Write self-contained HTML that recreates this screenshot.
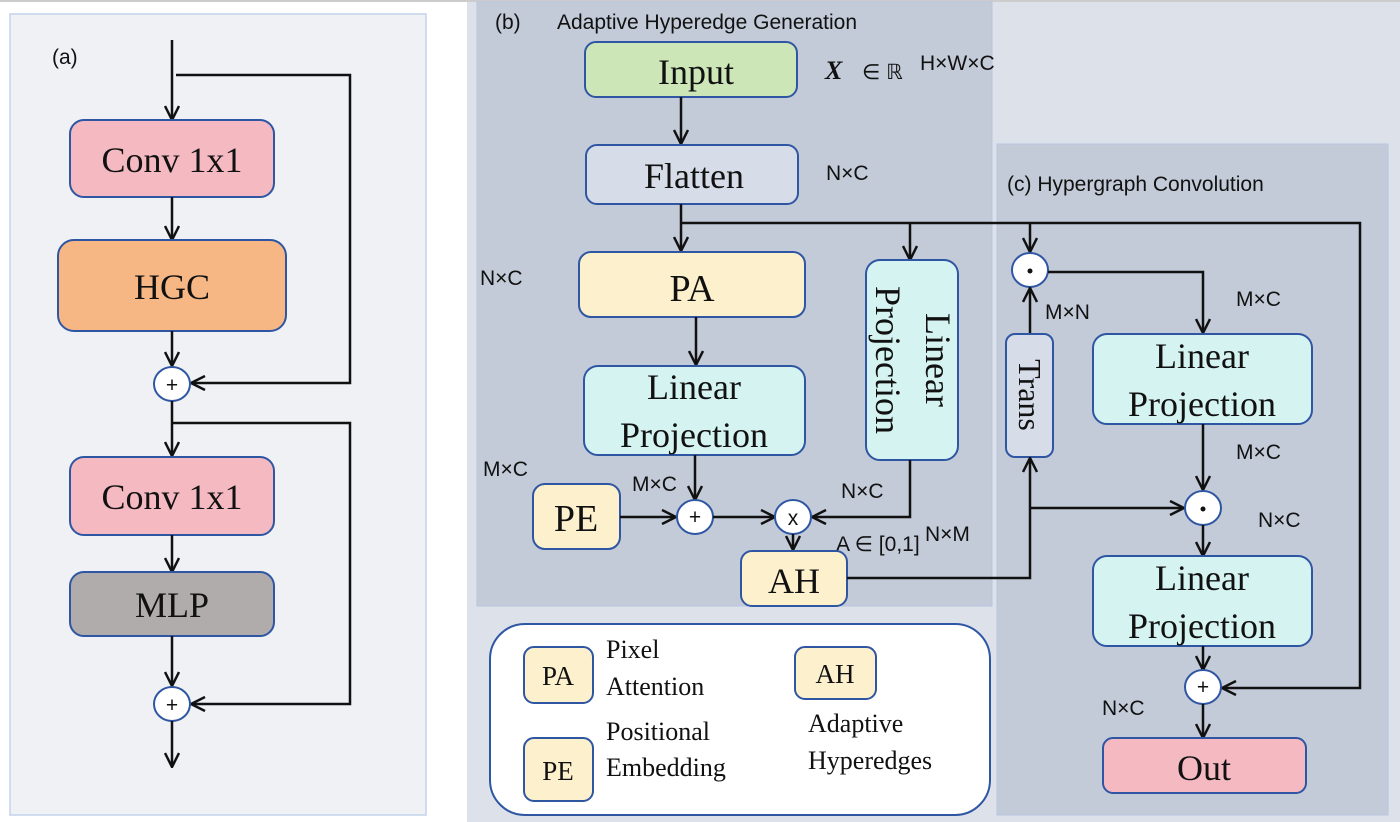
<!DOCTYPE html>
<html><head><meta charset="utf-8"><style>
html,body{margin:0;padding:0;background:#fff;}
svg{display:block}
.s{font-family:"Liberation Serif",serif;fill:#111;}
.l{font-family:"Liberation Sans",sans-serif;fill:#111;font-size:21px;}
.b{stroke:#2f56a3;stroke-width:2;}
.w{stroke:#111;stroke-width:2.5;fill:none;}
</style></head><body>
<svg width="1400" height="822" viewBox="0 0 1400 822" xmlns="http://www.w3.org/2000/svg">
<defs>
<marker id="a" viewBox="0 0 16 16" refX="15" refY="8" markerWidth="16" markerHeight="16" markerUnits="userSpaceOnUse" orient="auto">
<path d="M1,1 L15,8 L1,15" fill="none" stroke="#111" stroke-width="2.5"/>
</marker>
</defs>
<rect width="1400" height="822" fill="#fff"/>
<line x1="0" y1="1" x2="1400" y2="1" stroke="#ccc" stroke-width="2"/>
<rect x="467" y="2" width="933" height="820" fill="#dde2ea"/>
<!-- panel a -->
<rect x="10" y="14" width="416" height="801" fill="#eff1f5" stroke="#c3d2ec" stroke-width="1.5"/>
<text x="52" y="64" class="l" font-size="23">(a)</text>
<line x1="172" y1="40" x2="172" y2="120" class="w" marker-end="url(#a)"/>
<polyline points="176,75 350,75 350,383 191,383" class="w" marker-end="url(#a)"/>
<rect x="70" y="120" width="204" height="77" rx="14" fill="#f5b9c2" class="b"/>
<text x="172" y="172" class="s" font-size="36" text-anchor="middle">Conv 1x1</text>
<line x1="172" y1="197" x2="172" y2="240" class="w" marker-end="url(#a)"/>
<rect x="58" y="240" width="228" height="91" rx="16" fill="#f7b785" class="b"/>
<text x="172" y="299" class="s" font-size="36" text-anchor="middle">HGC</text>
<line x1="172" y1="331" x2="172" y2="366" class="w" marker-end="url(#a)"/>
<ellipse cx="172" cy="384" rx="18" ry="17" fill="#fff" class="b"/>
<text x="172" y="392" class="l" font-size="20" text-anchor="middle">+</text>
<line x1="172" y1="401" x2="172" y2="456" class="w" marker-end="url(#a)"/>
<polyline points="172,423 350,423 350,704 191,704" class="w" marker-end="url(#a)"/>
<rect x="70" y="457" width="204" height="78" rx="14" fill="#f5b9c2" class="b"/>
<text x="172" y="509" class="s" font-size="36" text-anchor="middle">Conv 1x1</text>
<line x1="172" y1="535" x2="172" y2="572" class="w" marker-end="url(#a)"/>
<rect x="70" y="572" width="204" height="64" rx="14" fill="#b0acab" class="b"/>
<text x="172" y="617" class="s" font-size="36" text-anchor="middle">MLP</text>
<line x1="172" y1="636" x2="172" y2="686" class="w" marker-end="url(#a)"/>
<ellipse cx="172" cy="704" rx="18" ry="17" fill="#fff" class="b"/>
<text x="172" y="712" class="l" font-size="20" text-anchor="middle">+</text>
<line x1="172" y1="721" x2="172" y2="767" class="w" marker-end="url(#a)"/>
<!-- panel b -->
<rect x="477" y="2" width="515" height="604" fill="#c3cbd8" stroke="#b8c6e2" stroke-width="1"/>
<!-- panel c bg -->
<rect x="997" y="144" width="391" height="671" fill="#c3cbd8" stroke="#b8c6e2" stroke-width="1"/>
<text x="495" y="29" class="l" font-size="24">(b)</text>
<text x="557" y="29" class="l" font-size="24">Adaptive Hyperedge Generation</text>
<rect x="585" y="42" width="212" height="55" rx="11" fill="#cde6b8" class="b"/>
<text x="696" y="84" class="s" font-size="36" text-anchor="middle">Input</text>
<text x="825" y="79" class="s" font-size="26" font-weight="bold" font-style="italic">X</text>
<text x="862" y="79" class="l" font-size="26">∈ ℝ</text>
<text x="920" y="70" class="l" font-size="15">H×W×C</text>
<line x1="681" y1="97" x2="681" y2="144" class="w" marker-end="url(#a)"/>
<rect x="586" y="145" width="212" height="59" rx="11" fill="#d7dde8" class="b"/>
<text x="694" y="188" class="s" font-size="36" text-anchor="middle">Flatten</text>
<text x="826" y="180" class="l">N×C</text>
<text x="480" y="285" class="l">N×C</text>
<line x1="681" y1="204" x2="681" y2="251" class="w" marker-end="url(#a)"/>
<polyline points="681,223 1360,223 1360,688 1222,688" class="w" marker-end="url(#a)"/>
<line x1="910" y1="223" x2="910" y2="260" class="w" marker-end="url(#a)"/>
<rect x="579" y="252" width="226" height="65" rx="12" fill="#fdf0cd" class="b"/>
<text x="692" y="301" class="s" font-size="38" text-anchor="middle">PA</text>
<line x1="696" y1="317" x2="696" y2="365" class="w" marker-end="url(#a)"/>
<rect x="584" y="366" width="221" height="89" rx="14" fill="#d5f4f1" class="b"/>
<text x="694" y="399" class="s" font-size="36" text-anchor="middle">Linear</text>
<text x="694" y="447" class="s" font-size="36" text-anchor="middle">Projection</text>
<rect x="866" y="260" width="92" height="200" rx="14" fill="#d5f4f1" class="b"/>
<text transform="translate(926,360) rotate(90)" class="s" font-size="36" text-anchor="middle">Linear</text>
<text transform="translate(876,360) rotate(90)" class="s" font-size="36" text-anchor="middle">Projection</text>
<text x="483" y="476" class="l">M×C</text>
<text x="632" y="491" class="l">M×C</text>
<line x1="695" y1="455" x2="695" y2="500" class="w" marker-end="url(#a)"/>
<rect x="533" y="484" width="87" height="65" rx="12" fill="#fdf0cd" class="b"/>
<text x="576" y="531" class="s" font-size="38" text-anchor="middle">PE</text>
<line x1="620" y1="517" x2="676" y2="517" class="w" marker-end="url(#a)"/>
<ellipse cx="695" cy="517" rx="18" ry="17" fill="#fff" class="b"/>
<text x="695" y="524" class="l" font-size="19" text-anchor="middle">+</text>
<line x1="713" y1="517" x2="775" y2="517" class="w" marker-end="url(#a)"/>
<polyline points="910,460 910,517 812,517" class="w" marker-end="url(#a)"/>
<text x="841" y="498" class="l">N×C</text>
<ellipse cx="793" cy="517" rx="18" ry="17" fill="#fff" class="b"/>
<text x="793" y="525" class="l" font-size="20" text-anchor="middle">x</text>
<line x1="793" y1="534" x2="793" y2="550" class="w" marker-end="url(#a)"/>
<text x="836" y="551" class="l" font-size="22">A ∈ [0,1]</text>
<text x="925" y="541" class="l" font-size="15">N×M</text>
<rect x="741" y="551" width="106" height="55" rx="11" fill="#fdf0cd" class="b"/>
<text x="794" y="593" class="s" font-size="36" text-anchor="middle">AH</text>
<!-- legend -->
<rect x="490" y="624" width="500" height="191" rx="35" fill="#fff" class="b"/>
<rect x="524" y="647" width="69" height="56" rx="10" fill="#fdf0cd" class="b"/>
<text x="558" y="685" class="s" font-size="27" text-anchor="middle">PA</text>
<text x="606" y="658" class="s" font-size="26">Pixel</text>
<text x="606" y="695" class="s" font-size="26">Attention</text>
<rect x="795" y="647" width="81" height="52" rx="10" fill="#fdf0cd" class="b"/>
<text x="835" y="683" class="s" font-size="27" text-anchor="middle">AH</text>
<rect x="524" y="738" width="69" height="63" rx="10" fill="#fdf0cd" class="b"/>
<text x="558" y="780" class="s" font-size="27" text-anchor="middle">PE</text>
<text x="606" y="740" class="s" font-size="26">Positional</text>
<text x="606" y="776" class="s" font-size="26">Embedding</text>
<text x="808" y="732" class="s" font-size="26">Adaptive</text>
<text x="808" y="769" class="s" font-size="26">Hyperedges</text>
<!-- panel c -->
<text x="1007" y="191" class="l" font-size="23">(c)  Hypergraph Convolution</text>
<line x1="1030" y1="223" x2="1030" y2="252" class="w" marker-end="url(#a)"/>
<ellipse cx="1030" cy="270" rx="18" ry="17" fill="#fff" class="b"/>
<circle cx="1030" cy="271" r="2.5" fill="#111"/>
<polyline points="1048,272 1203,272 1203,333" class="w" marker-end="url(#a)"/>
<text x="1236" y="306" class="l">M×C</text>
<text x="1045" y="319" class="l">M×N</text>
<line x1="1030" y1="333" x2="1030" y2="288" class="w" marker-end="url(#a)"/>
<rect x="1006" y="334" width="47" height="123" rx="9" fill="#d7dde8" class="b"/>
<text transform="translate(1019,395) rotate(90)" class="s" font-size="32" text-anchor="middle">Trans</text>
<polyline points="847,578 1030,578 1030,458" class="w" marker-end="url(#a)"/>
<line x1="1030" y1="508" x2="1184" y2="508" class="w" marker-end="url(#a)"/>
<rect x="1093" y="334" width="219" height="90" rx="14" fill="#d5f4f1" class="b"/>
<text x="1202" y="368" class="s" font-size="36" text-anchor="middle">Linear</text>
<text x="1202" y="416" class="s" font-size="36" text-anchor="middle">Projection</text>
<line x1="1203" y1="424" x2="1203" y2="490" class="w" marker-end="url(#a)"/>
<text x="1236" y="459" class="l">M×C</text>
<ellipse cx="1203" cy="508" rx="18" ry="17" fill="#fff" class="b"/>
<circle cx="1203" cy="509" r="2.5" fill="#111"/>
<text x="1258" y="527" class="l">N×C</text>
<line x1="1203" y1="525" x2="1203" y2="556" class="w" marker-end="url(#a)"/>
<rect x="1093" y="556" width="219" height="90" rx="14" fill="#d5f4f1" class="b"/>
<text x="1202" y="590" class="s" font-size="36" text-anchor="middle">Linear</text>
<text x="1202" y="638" class="s" font-size="36" text-anchor="middle">Projection</text>
<line x1="1203" y1="646" x2="1203" y2="670" class="w" marker-end="url(#a)"/>
<ellipse cx="1203" cy="687" rx="18" ry="17" fill="#fff" class="b"/>
<text x="1203" y="694" class="l" font-size="19" text-anchor="middle">+</text>
<text x="1102" y="715" class="l">N×C</text>
<line x1="1203" y1="704" x2="1203" y2="738" class="w" marker-end="url(#a)"/>
<rect x="1103" y="738" width="203" height="55" rx="10" fill="#f5b9c2" class="b"/>
<text x="1204" y="780" class="s" font-size="36" text-anchor="middle">Out</text>
</svg>
</body></html>
